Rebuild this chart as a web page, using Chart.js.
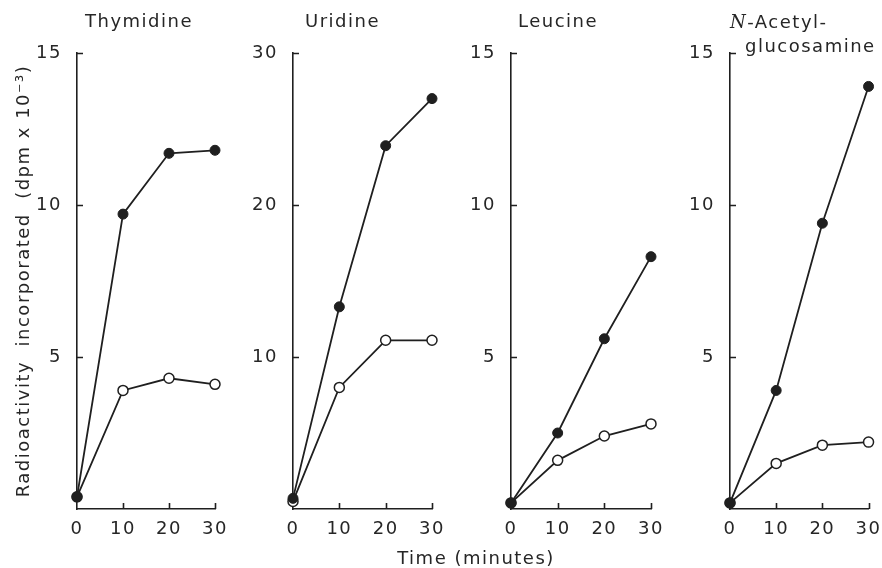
<!DOCTYPE html>
<html>
<head>
<meta charset="utf-8">
<title>Radioactivity incorporated</title>
<script src="https://cdn.jsdelivr.net/npm/chart.js@4.4.1/dist/chart.umd.min.js"></script>
<style>
    html, body { margin: 0; padding: 0; background: #fff; }
    #wrap { position: relative; width: 882px; height: 568px; }
    #wrap canvas { position: absolute; left: 0; top: 0; }
</style>
</head>
<body>
<div id="wrap">
    <canvas id="c1" width="882" height="568"></canvas>
    <canvas id="c2" width="882" height="568"></canvas>
    <canvas id="c3" width="882" height="568"></canvas>
    <canvas id="c4" width="882" height="568"></canvas>
</div>
<script>
// Tiempos (minutos) y valores (dpm x 10^-3)
const times = [0, 10, 20, 30];

const thymidineFilled = [0.4, 9.7, 11.7, 11.8];
const thymidineOpen   = [0.4, 3.9, 4.3, 4.1];

const uridineFilled = [0.7, 13.3, 23.9, 27.0];
const uridineOpen   = [0.5, 8.0, 11.1, 11.1];

const leucineFilled = [0.2, 2.5, 5.6, 8.3];
const leucineOpen   = [0.2, 1.6, 2.4, 2.8];

const nagFilled = [0.2, 3.9, 9.4, 13.9];
const nagOpen   = [0.2, 1.5, 2.1, 2.2];

const yMaxes = [15, 30, 15, 15];
const ySteps = [5, 10, 5, 5];
const xMax = 30;
const xStep = 10;

const INK = '#1f1f1f';
const TXT = '#262626';
const FAMILY = "'DejaVu Sans', sans-serif";
const FSIZE = 18;
const SPACING = '1.5px';

Chart.defaults.font.family = FAMILY;
Chart.defaults.font.size = FSIZE;
Chart.defaults.color = TXT;

// espaciado de letras + marcas de graduación hacia dentro
const estiloPlugin = {
    id: 'estilo',
    beforeDraw(chart) {
        chart.ctx.letterSpacing = SPACING;
    },
    afterDraw(chart) {
        const ctx = chart.ctx;
        const area = chart.chartArea;
        const sx = chart.scales.x, sy = chart.scales.y;
        ctx.save();
        ctx.strokeStyle = INK;
        ctx.lineWidth = 1.6;
        ctx.beginPath();
        sy.ticks.forEach(t => {
            if (t.value === 0) return;
            const y = Math.round(sy.getPixelForValue(t.value)) + 0.5;
            ctx.moveTo(area.left, y);
            ctx.lineTo(area.left + 6, y);
        });
        sx.ticks.forEach(t => {
            if (t.value === 0) return;
            const x = Math.round(sx.getPixelForValue(t.value)) + 0.5;
            ctx.moveTo(x, area.bottom);
            ctx.lineTo(x, area.bottom - 6);
        });
        ctx.stroke();
        ctx.restore();
    }
};

// títulos de cada panel (con segmentos en cursiva)
const tituloPlugin = {
    id: 'tituloPanel',
    afterDraw(chart, args, opts) {
        if (!opts.lines) return;
        const ctx = chart.ctx;
        const left = chart.chartArea.left;
        ctx.save();
        ctx.letterSpacing = SPACING;
        ctx.fillStyle = TXT;
        ctx.textBaseline = 'middle';
        ctx.textAlign = 'left';
        opts.lines.forEach(line => {
            let x = left + line.dx;
            line.parts.forEach(p => {
                ctx.font = p.font || `${FSIZE}px ${FAMILY}`;
                ctx.fillText(p.text, x, line.y);
                x += ctx.measureText(p.text).width;
            });
        });
        if (opts.shared) {
            const s = opts.shared;
            ctx.font = `${FSIZE}px ${FAMILY}`;
            ctx.textAlign = 'center';
            ctx.fillText(s.text, s.x, s.y);
        }
        ctx.restore();
    }
};

const paneles = [
    {
        id: 'c1', filled: thymidineFilled, open: thymidineOpen,
        left: 77, right: 215, yWidth: 77, yTitle: true,
        lines: [{ dx: 8, y: 22, parts: [{ text: 'Thymidine' }] }],
        shared: { text: 'Time (minutes)', x: 476, y: 559 }
    },
    {
        id: 'c2', filled: uridineFilled, open: uridineOpen,
        left: 293, right: 432, yWidth: 40,
        lines: [{ dx: 12, y: 22, parts: [{ text: 'Uridine' }] }]
    },
    {
        id: 'c3', filled: leucineFilled, open: leucineOpen,
        left: 511, right: 651, yWidth: 40,
        lines: [{ dx: 7, y: 22, parts: [{ text: 'Leucine' }] }]
    },
    {
        id: 'c4', filled: nagFilled, open: nagOpen,
        left: 730, right: 871, yWidth: 40,
        lines: [
            { dx: 0, y: 23, parts: [{ text: 'N', font: `italic ${FSIZE}px 'DejaVu Serif', serif` }, { text: '-Acetyl-' }] },
            { dx: 15, y: 47, parts: [{ text: 'glucosamine' }] }
        ]
    }
];

const TOP = 53, BOTTOM = 509, W = 882, H = 568, XH = 30;

paneles.forEach((p, i) => {
    const serie = (vals) => vals.map((v, k) => ({ x: times[k], y: v }));
    new Chart(document.getElementById(p.id), {
        type: 'line',
        data: {
            datasets: [
                {
                    data: serie(p.filled),
                    borderColor: INK,
                    borderWidth: 1.8,
                    backgroundColor: INK,
                    pointBackgroundColor: INK,
                    pointBorderColor: INK,
                    pointRadius: 5,
                    pointHoverRadius: 5,
                    pointBorderWidth: 1,
                    tension: 0,
                    clip: false
                },
                {
                    data: serie(p.open),
                    borderColor: INK,
                    borderWidth: 1.8,
                    backgroundColor: '#fff',
                    pointBackgroundColor: '#fff',
                    pointBorderColor: INK,
                    pointRadius: 5,
                    pointHoverRadius: 5,
                    pointBorderWidth: 1.5,
                    tension: 0,
                    clip: false
                }
            ]
        },
        options: {
            responsive: false,
            animation: false,
            events: [],
            layout: {
                padding: {
                    left: p.left - p.yWidth,
                    right: W - p.right,
                    top: TOP,
                    bottom: H - BOTTOM - XH
                }
            },
            plugins: {
                legend: { display: false },
                tooltip: { enabled: false },
                tituloPanel: { lines: p.lines, shared: p.shared }
            },
            scales: {
                x: {
                    type: 'linear',
                    min: 0,
                    max: xMax,
                    grid: { display: false },
                    border: { display: true, color: INK, width: 1.6 },
                    ticks: { stepSize: xStep, padding: 2, autoSkip: false, maxRotation: 0 },
                    afterFit: s => { s.height = XH; }
                },
                y: {
                    min: 0,
                    max: yMaxes[i],
                    grid: { display: false },
                    border: { display: true, color: INK, width: 1.6 },
                    ticks: {
                        stepSize: ySteps[i],
                        padding: 7,
                        callback: v => v === 0 ? '' : v
                    },
                    title: {
                        display: !!p.yTitle,
                        text: 'Radioactivity  incorporated  (dpm x 10⁻³)',
                        color: TXT,
                        font: { size: FSIZE },
                        padding: { top: 14, bottom: 0 }
                    },
                    afterFit: s => { s.width = p.yWidth; }
                }
            }
        },
        plugins: [estiloPlugin, tituloPlugin]
    });
});
</script>
</body>
</html>
